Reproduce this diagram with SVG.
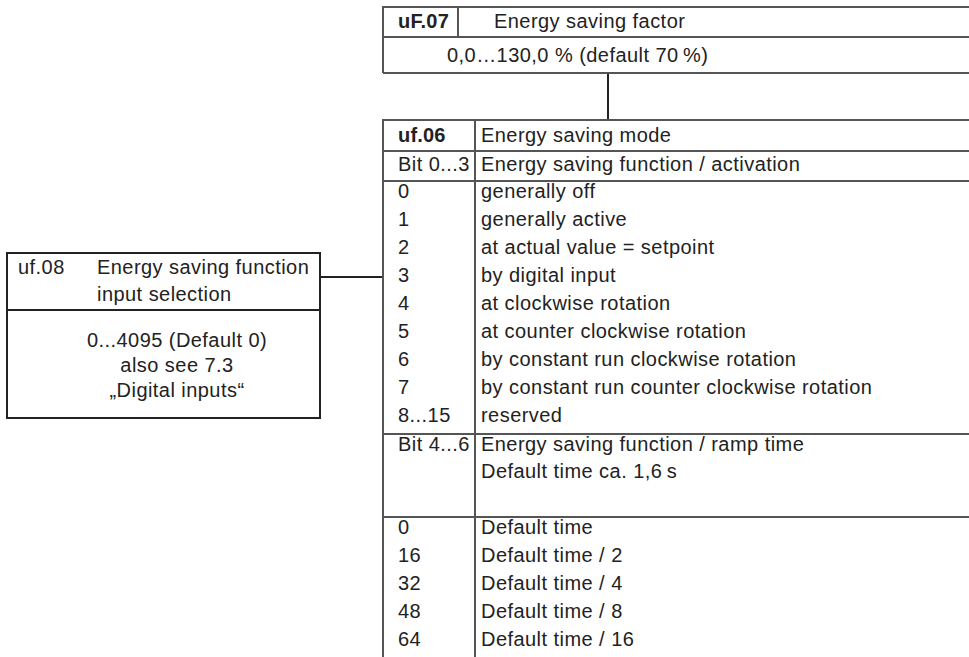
<svg xmlns="http://www.w3.org/2000/svg" width="969" height="657" viewBox="0 0 969 657">
<style>
text{font-family:"Liberation Sans",Arial,sans-serif;font-size:20px;letter-spacing:0.45px;fill:#222}
.b{font-weight:bold;letter-spacing:0.2px}
.c{text-anchor:middle}
.ln{stroke:#555;stroke-width:2;fill:none}
.dk{stroke:#222;stroke-width:2;fill:none}
</style>
<rect width="969" height="657" fill="#fff"/>
<g id="connectors">
<line class="dk" x1="608" y1="73" x2="608" y2="120"/>
<line class="dk" x1="320" y1="277" x2="383" y2="277"/>
</g>
<g id="uF07">
<path class="ln" d="M383 73V7H969M383 37H969M383 73H969M458 7V37"/>
<text class="b" x="398" y="28">uF.07</text>
<text x="494" y="28">Energy saving factor</text>
<text x="447" y="62">0,0…130,0 % (default 70&#8201;%)</text>
</g>
<g id="uf06">
<path class="ln" d="M383 657V120H969M383 151H969M383 181H969M382 434H969M383 517H969M475 120V657"/>
<text class="b" x="398" y="142">uf.06</text>
<text x="481" y="142">Energy saving mode</text>
<text x="398" y="171">Bit 0...3</text>
<text x="481" y="171">Energy saving function / activation</text>
<text x="398" y="198">0</text><text x="481" y="198">generally off</text>
<text x="398" y="226">1</text><text x="481" y="226">generally active</text>
<text x="398" y="254">2</text><text x="481" y="254">at actual value = setpoint</text>
<text x="398" y="282">3</text><text x="481" y="282">by digital input</text>
<text x="398" y="310">4</text><text x="481" y="310">at clockwise rotation</text>
<text x="398" y="338">5</text><text x="481" y="338">at counter clockwise rotation</text>
<text x="398" y="366">6</text><text x="481" y="366">by constant run clockwise rotation</text>
<text x="398" y="394">7</text><text x="481" y="394">by constant run counter clockwise rotation</text>
<text x="398" y="422">8...15</text><text x="481" y="422">reserved</text>
<text x="398" y="451">Bit 4...6</text>
<text x="481" y="451">Energy saving function / ramp time</text>
<text x="481" y="478">Default time ca. 1,6&#8201;s</text>
<text x="398" y="534">0</text><text x="481" y="534">Default time</text>
<text x="398" y="562">16</text><text x="481" y="562">Default time / 2</text>
<text x="398" y="590">32</text><text x="481" y="590">Default time / 4</text>
<text x="398" y="618">48</text><text x="481" y="618">Default time / 8</text>
<text x="398" y="646">64</text><text x="481" y="646">Default time / 16</text>
</g>
<g id="uf08">
<rect class="dk" x="7" y="253" width="313" height="165"/>
<line class="dk" x1="7" y1="310" x2="320" y2="310"/>
<text x="18" y="274">uf.08</text>
<text x="97" y="274">Energy saving function</text>
<text x="97" y="301">input selection</text>
<text class="c" x="177" y="347">0...4095 (Default 0)</text>
<text class="c" x="177" y="372">also see 7.3</text>
<text class="c" x="177" y="397">„Digital inputs“</text>
</g>
</svg>
